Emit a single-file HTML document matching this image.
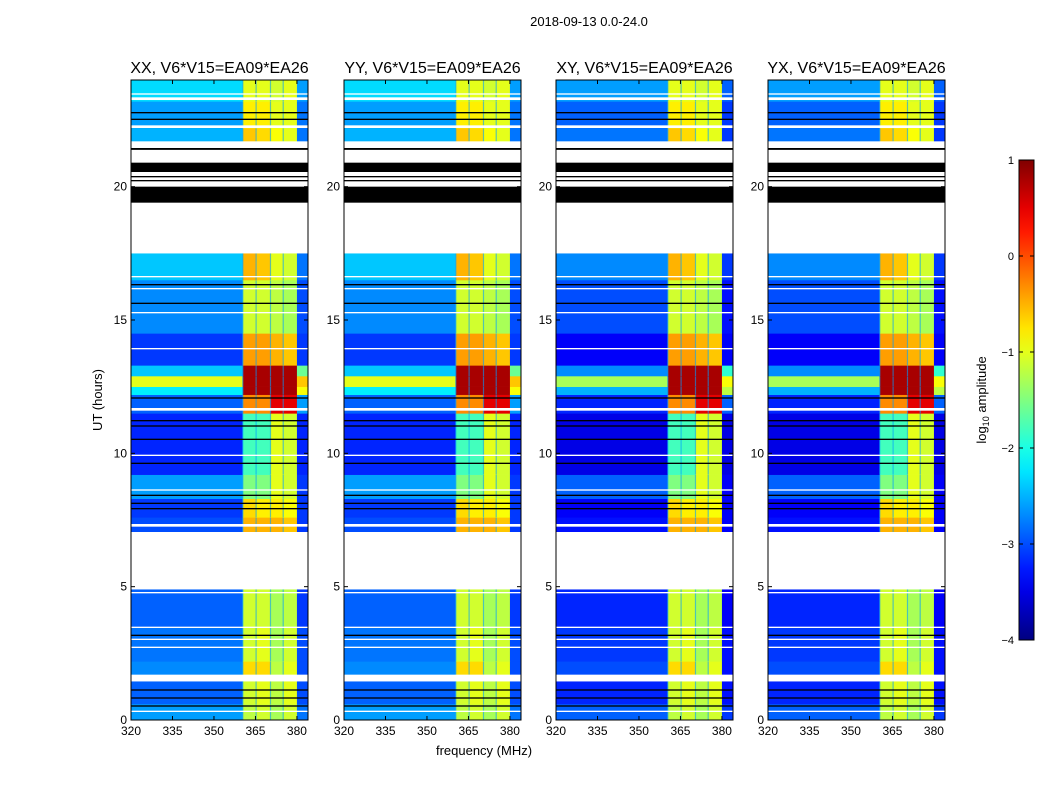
<!DOCTYPE html>
<html><head><meta charset="utf-8"><style>
body{margin:0;background:#fff;font-family:"Liberation Sans",sans-serif;}
svg text{font-family:"Liberation Sans",sans-serif;}
</style></head><body>
<svg id="c" width="1050" height="800" xmlns="http://www.w3.org/2000/svg">
<rect width="1050" height="800" fill="#fff"/>
<text x="589" y="26" font-size="13" text-anchor="middle">2018-09-13 0.0-24.0</text>
<text x="484" y="755" font-size="13" text-anchor="middle">frequency (MHz)</text>
<text transform="translate(102,400) rotate(-90)" font-size="13" text-anchor="middle">UT (hours)</text>
<text transform="translate(986,400) rotate(-90)" font-size="13" text-anchor="middle">log<tspan font-size="9" dy="3">10</tspan><tspan dy="-3"> amplitude</tspan></text>
</svg>
<script>
const panelTitles=["XX, V6*V15=EA09*EA26","YY, V6*V15=EA09*EA26","XY, V6*V15=EA09*EA26","YX, V6*V15=EA09*EA26"];
const panelBgShift=[0,0,-0.3,-0.3];
const panelBandShift=[0,0,0,0];
const freqEdges=[320,360.4,365.2,370.4,375,380,384];
const xTicks=[320,335,350,365,380];
const yTicks=[0,5,10,15,20];
const cbTicks=[1,0,-1,-2,-3,-4];
// [t0, t1, background, band1, band2, band3, band4, tail]
const segments=[
[0,0.6,-2.6,-1.2,-1.1,-1.3,-1.1,-2.8],
[0.6,1.45,-2.9,-1.1,-1.0,-1.2,-1.0,-3.0],
[1.7,2.2,-2.7,-0.7,-0.7,-1.2,-1.0,-3.0],
[2.2,3.5,-2.8,-1.1,-1.0,-1.3,-1.1,-3.0],
[3.5,4.9,-2.9,-1.1,-1.1,-1.3,-1.2,-3.1],
[7.05,7.6,-3.0,-0.5,-0.5,-0.5,-0.6,-3.1],
[7.6,8.3,-3.1,-0.7,-0.8,-0.8,-0.9,-3.1],
[8.3,9.2,-2.6,-1.5,-1.5,-1.0,-1.1,-3.1],
[9.2,11.5,-3.2,-1.8,-1.8,-1.0,-1.1,-3.2],
[11.5,12.2,-2.9,-0.3,-0.3,0.5,0.5,-2.6],
[12.2,12.5,-2.2,0.8,0.8,0.8,0.8,-0.9],
[12.5,12.9,-1.0,0.8,0.8,0.8,0.8,-0.6],
[12.9,13.3,-2.4,0.8,0.8,0.8,0.8,-1.6],
[13.3,14.5,-3.1,-0.4,-0.4,-0.5,-0.6,-3.1],
[14.5,16.5,-2.7,-1.1,-1.1,-1.2,-1.3,-3.0],
[16.5,17.5,-2.4,-0.5,-0.6,-1.0,-1.1,-2.8],
[21.7,22.2,-2.5,-0.6,-0.7,-0.9,-1.0,-2.8],
[22.2,23.2,-2.6,-0.8,-0.8,-1.0,-1.0,-2.8],
[23.2,24,-2.3,-1.0,-1.0,-1.1,-1.0,-2.6]
];
const whiteGaps=[[1.45,1.7],[4.9,7.05],[17.5,19.4],[21.5,21.7],[21.2,21.35],[20.95,21.1],[22.2,22.3],[23.25,23.35],[23.45,23.5],[7.25,7.35],[8.6,8.65],[9.9,9.95],[11.6,11.7],[15.25,15.3],[16.15,16.2],[16.6,16.65],[3.45,3.5],[3.0,3.05],[2.7,2.75],[4.75,4.8],[0.3,0.35],[13.9,13.95]];
const blackBars=[[19.4,20.0],[20.55,20.9],[21.38,21.45],[20.2,20.25],[20.35,20.4],[22.5,22.55],[22.75,22.8],[11.0,11.05],[11.2,11.25],[10.5,10.55],[9.6,9.65],[8.1,8.15],[7.9,7.95],[8.4,8.45],[16.3,16.35],[15.6,15.65],[12.05,12.1],[3.15,3.2],[1.1,1.15],[0.8,0.85],[0.5,0.55]];
const panelLeft=[131,344,556,768];
const W=177, PT=80, PB=720;
const svg=document.getElementById('c');
const NS="http://www.w3.org/2000/svg";
function jet(v){let t=(v+4)/5;t=Math.max(0,Math.min(1,t));
 const r=Math.max(0,Math.min(1,1.5-Math.abs(4*t-3))),g=Math.max(0,Math.min(1,1.5-Math.abs(4*t-2))),b=Math.max(0,Math.min(1,1.5-Math.abs(4*t-1)));
 return `rgb(${Math.round(r*255)},${Math.round(g*255)},${Math.round(b*255)})`;}
function el(tag,attrs){const e=document.createElementNS(NS,tag);for(const k in attrs)e.setAttribute(k,attrs[k]);svg.appendChild(e);return e;}
function yS(h){return PB-(h/24)*(PB-PT);}
panelLeft.forEach((L,p)=>{
 const xS=f=>L+(f-320)/(384-320)*W;
 segments.forEach((s,si)=>{
  for(let k=0;k<6;k++){
   const v=(k===0?s[2]+panelBgShift[p]:(k===5?s[7]+panelBgShift[p]:s[2+k]+panelBandShift[p]));
   const r=el('rect',{x:xS(freqEdges[k]),y:yS(s[1]),width:xS(freqEdges[k+1])-xS(freqEdges[k])+0.3,height:yS(s[0])-yS(s[1])+0.3,fill:jet(v)});
   
   
  }
  for(let k=1;k<5;k++){const ln=el('rect',{x:xS(freqEdges[k])-0.5,y:yS(s[1]),width:1.2,height:yS(s[0])-yS(s[1]),fill:jet(-2.6),opacity:0.6});
   }
 });
 whiteGaps.forEach(g=>{const r=el('rect',{x:L,y:yS(g[1]),width:W,height:Math.max(1,yS(g[0])-yS(g[1])),fill:'#fff'});
  });
 blackBars.forEach(g=>{const r=el('rect',{x:L,y:yS(g[1]),width:W,height:Math.max(1,yS(g[0])-yS(g[1])),fill:'#000'});
  });
 const fr=el('rect',{x:L,y:PT,width:W,height:PB-PT,fill:'none',stroke:'#000','stroke-width':1});
 
 const t=el('text',{x:L+W/2,y:PT-7,'font-size':16,'text-anchor':'middle'});t.textContent=panelTitles[p];
 
 xTicks.forEach(f=>{const x=xS(f);el('line',{x1:x,x2:x,y1:PB,y2:PB-4,stroke:'#000'});el('line',{x1:x,x2:x,y1:PT,y2:PT+4,stroke:'#000'});
  const tx=el('text',{x:x,y:PB+15,'font-size':12,'text-anchor':'middle'});tx.textContent=f;
  });
 yTicks.forEach(h=>{const y=yS(h);el('line',{x1:L,x2:L+4,y1:y,y2:y,stroke:'#000'});el('line',{x1:L+W,x2:L+W-4,y1:y,y2:y,stroke:'#000'});
  const ty=el('text',{x:L-4,y:y+4,'font-size':12,'text-anchor':'end'});ty.textContent=h;
  });
});
const cbX=1019,cbW=15,cbT=160,cbB=640;
const defs=el('defs',{});
const lg=document.createElementNS(NS,'linearGradient');lg.setAttribute('id','jetg');lg.setAttribute('x1','0');lg.setAttribute('y1','1');lg.setAttribute('x2','0');lg.setAttribute('y2','0');
for(let i=0;i<=20;i++){const st=document.createElementNS(NS,'stop');st.setAttribute('offset',i/20);st.setAttribute('stop-color',jet(-4+5*i/20));lg.appendChild(st);}
defs.appendChild(lg);
const cb=el('rect',{x:cbX,y:cbT,width:cbW,height:cbB-cbT,fill:'url(#jetg)',stroke:'#000'});

cbTicks.forEach(v=>{const y=cbB-(v+4)/5*(cbB-cbT);el('line',{x1:cbX,x2:cbX+4,y1:y,y2:y,stroke:'#000'});el('line',{x1:cbX+cbW,x2:cbX+cbW-4,y1:y,y2:y,stroke:'#000'});
 const t=el('text',{x:cbX-5,y:y+4,'font-size':11,'text-anchor':'end'});t.textContent=(v<0?'\u2212'+(-v):v);
 });
</script>
</body></html>
